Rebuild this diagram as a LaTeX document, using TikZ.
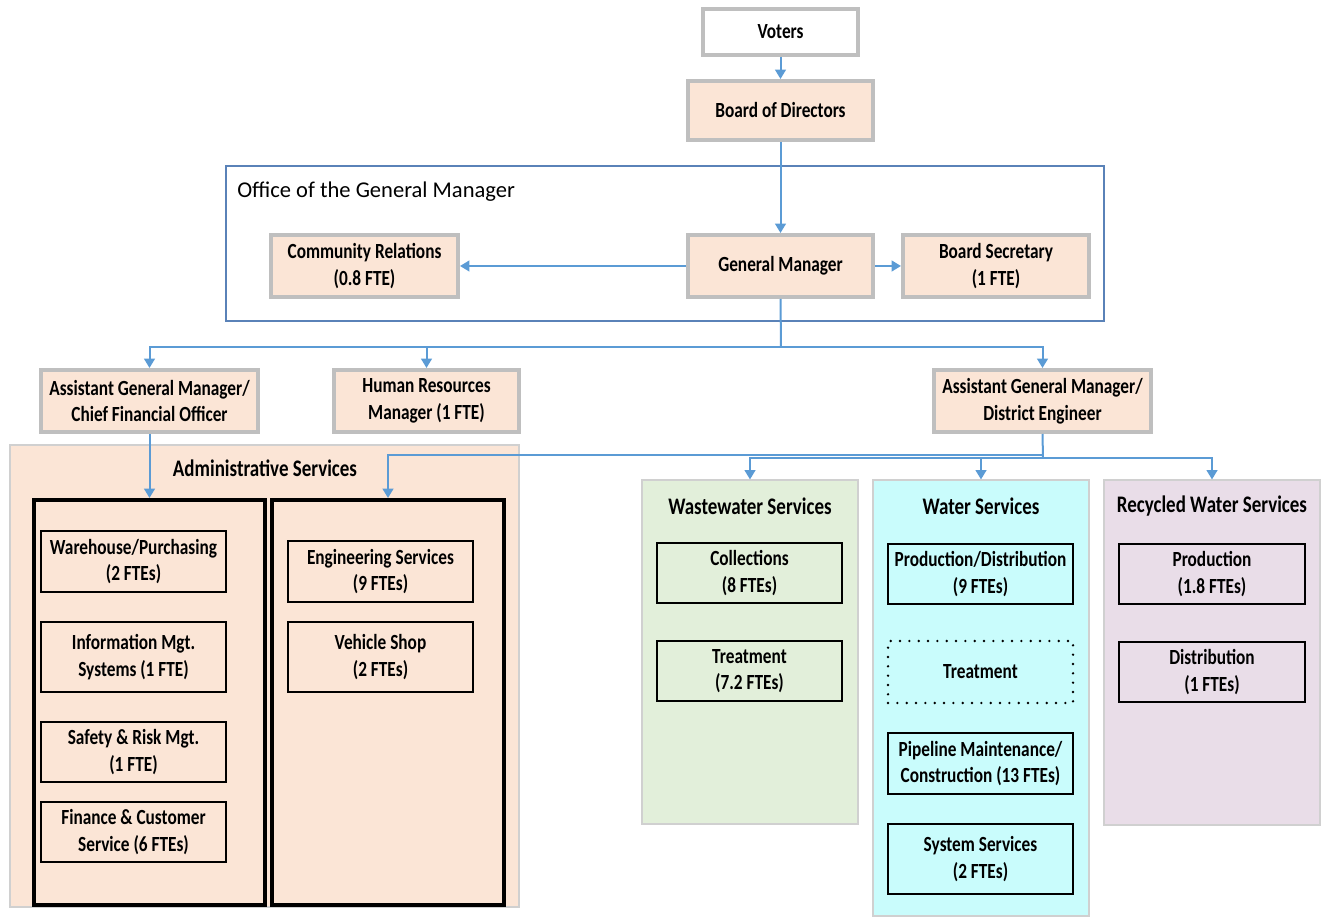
\documentclass[tikz,border=0pt]{standalone}
\usepackage{fontspec}
\setmainfont{Carlito}
\newfontfamily\cb{Carlito}[FakeStretch=0.8]
\usetikzlibrary{arrows.meta}
\definecolor{peach}{HTML}{FBE5D6}
\definecolor{gborder}{HTML}{BFBFBF}
\definecolor{panelb}{HTML}{D0D0D0}
\definecolor{wwgreen}{HTML}{E2EFDA}
\definecolor{wcyan}{HTML}{C9FCFC}
\definecolor{rpurple}{HTML}{E9DDE8}
\definecolor{conn}{HTML}{5B9BD5}
\definecolor{offblue}{HTML}{5A82B8}
\newcommand\bx[7]{\node[#6, minimum width={(#4-#2)*0.75pt}, minimum height={(#5-#3)*0.75pt}] (#1) at ({(#2+#4)/2},{(#3+#5)/2}) {#7};}
\tikzset{
  txt/.style={font=\cb\bfseries\fontsize{16.2}{20}\selectfont, align=center, inner sep=0pt, text=black},
  gbox/.style={txt, draw=gborder, line width=3pt, fill=peach},
  ibox/.style={txt, draw=black, line width=1.3pt},
  dbox/.style={txt, draw=black, line width=2pt, dash pattern=on 0pt off 7pt, line cap=round},
  thickbox/.style={draw=black, line width=3pt, inner sep=0pt},
  panel/.style={draw=panelb, line width=0.8pt, inner sep=0pt},
  ptitle/.style={font=\cb\bfseries\fontsize{17.8}{21}\selectfont, inner sep=0pt, text=black},
  arr/.style={draw=conn, line width=1.5pt, -{Triangle[length=7pt,width=8pt]}},
  ln/.style={draw=conn, line width=1.5pt},
}
\begin{document}
\begin{tikzpicture}[x=0.75pt,y=-0.75pt]
\useasboundingbox (0,0) rectangle (1322,919);
% top
\bx{voters}{703}{9}{858}{55}{gbox,fill=white}{Voters}
\bx{board}{688}{81}{873}{140}{gbox}{Board of Directors}
% office
\bx{office}{226}{166}{1104}{321}{draw=offblue,line width=1pt,inner sep=0pt}{}
\node[anchor=west, font=\fontsize{16.9}{20}\selectfont, inner sep=0pt] (offlabel) at (237,192) {Office of the General Manager};
\bx{cr}{271}{235}{458}{297}{gbox}{Community Relations\\(0.8 FTE)}
\bx{gm}{688}{235}{873}{297}{gbox}{General Manager}
\bx{bs}{903}{235}{1089}{297}{gbox}{Board Secretary\\(1 FTE)}
% second level
\bx{cfo}{41}{370}{258}{432}{gbox}{Assistant General Manager/\\Chief Financial Officer}
\bx{hr}{334}{370}{519}{432}{gbox}{Human Resources\\Manager (1 FTE)}
\bx{de}{934}{370}{1151}{432}{gbox}{Assistant General Manager/\\District Engineer}
% admin panel
\bx{admin}{10}{445}{519}{907}{panel,fill=peach}{}
\node[ptitle] (admintitle) at (265,468) {Administrative Services};
\bx{lbox}{34}{500}{265}{905}{thickbox}{}
\bx{rbox}{272}{500}{504}{905}{thickbox}{}
\bx{wh}{41}{531}{226}{592}{ibox}{Warehouse/Purchasing\\(2 FTEs)}
\bx{ims}{41}{622}{226}{692}{ibox}{Information Mgt.\\Systems (1 FTE)}
\bx{safe}{41}{722}{226}{782}{ibox}{Safety \& Risk Mgt.\\(1 FTE)}
\bx{fin}{41}{802}{226}{862}{ibox}{Finance \& Customer\\Service (6 FTEs)}
\bx{eng}{288}{541}{473}{602}{ibox}{Engineering Services\\(9 FTEs)}
\bx{veh}{288}{622}{473}{692}{ibox}{Vehicle Shop\\(2 FTEs)}
% service panels
\bx{ww}{642}{480}{858}{824}{panel,fill=wwgreen}{}
\bx{ws}{873}{480}{1089}{916}{panel,fill=wcyan}{}
\bx{rw}{1104}{480}{1320}{825}{panel,fill=rpurple}{}
\node[ptitle] (wwt) at (750,506) {Wastewater Services};
\node[ptitle] (wst) at (981,506) {Water Services};
\node[ptitle] (rwt) at (1212,506) {Recycled Water Services};
\bx{col}{657}{543}{842}{603}{ibox}{Collections\\(8 FTEs)}
\bx{wwtr}{657}{641}{842}{701}{ibox}{Treatment\\(7.2 FTEs)}
\bx{pd}{888}{544}{1073}{604}{ibox}{Production/Distribution\\(9 FTEs)}
\bx{wtr}{888}{641}{1073}{703}{dbox}{Treatment}
\bx{pipe}{888}{733}{1073}{794}{ibox}{Pipeline Maintenance/\\Construction (13 FTEs)}
\bx{sys}{888}{824}{1073}{894}{ibox}{System Services\\(2 FTEs)}
\bx{rprod}{1119}{544}{1305}{604}{ibox}{Production\\(1.8 FTEs)}
\bx{rdist}{1119}{642}{1305}{702}{ibox}{Distribution\\(1 FTEs)}
% connectors
\draw[arr] (voters.south) -- (board.north);
\draw[arr] (board.south) -- (gm.north);
\draw[arr] (gm.west) -- (cr.east);
\draw[arr] (gm.east) -- (bs.west);
\coordinate (j1) at (781,347);
\draw[ln] (gm.south) -- (j1);
\draw[arr] (j1) -| (cfo.north);
\draw[arr] (j1) -| (hr.north);
\draw[arr] (j1) -| (de.north);
\draw[arr] (cfo.south) -- (lbox.north);
\coordinate (j2) at (1043,455);
\coordinate (j3) at (1043,458);
\draw[ln] (de.south) -- (j3);
\draw[arr] (j2) -| (rbox.north);
\draw[arr] (j3) -| (ww.north);
\draw[arr] (j3) -| (ws.north);
\draw[arr] (j3) -| (rw.north);
\end{tikzpicture}
\end{document}
